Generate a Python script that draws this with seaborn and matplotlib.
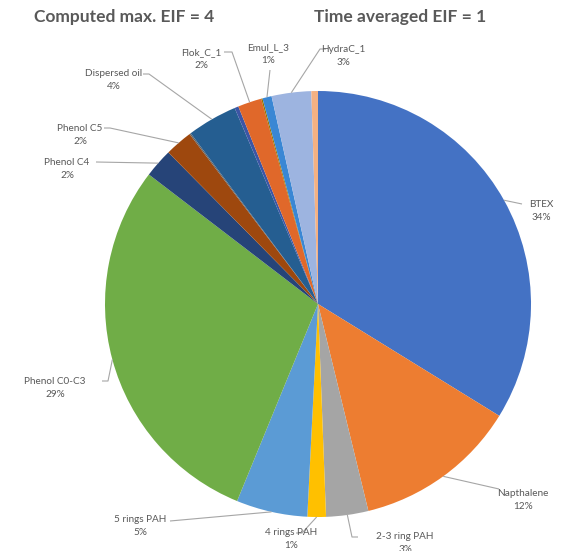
import matplotlib
matplotlib.use("Agg")
import matplotlib.pyplot as plt
import seaborn as sns
import numpy as np

# Share of the environmental impact factor per component (percent), clockwise from 12 o'clock
categories = ["BTEX", "Napthalene", "2-3 ring PAH", "4 rings PAH", "5 rings PAH",
              "Phenol C0-C3", "Phenol C4", "Phenol C5", "", "Dispersed oil", "",
              "Flok_C_1", "", "Emul_L_3", "HydraC_1", ""]
shares = [33.8, 12.4, 3.2, 1.4, 5.4, 29.2, 2.2, 2.1, 0.1, 3.8, 0.3, 1.8, 0.1, 0.7, 3.0, 0.5]
colors = ["#4472C4", "#ED7D31", "#A5A5A5", "#FFC000", "#5B9BD5", "#70AD47",
          "#264478", "#9E480E", "#636363", "#255E91", "#3C55A5", "#E0682A",
          "#997300", "#3A87D4", "#9DB4E0", "#F4B183"]
titles = ["Computed max. EIF = 4", "Time averaged EIF = 1"]

# Label layout in figure pixels: text centre, then leader line points from text toward the wedge
label_layout = {
    "BTEX":          ((541, 211), [(522, 204)]),
    "Napthalene":    ((523, 500), [(499, 489)]),
    "2-3 ring PAH":  ((405, 543), [(358, 537), (352, 537)]),
    "4 rings PAH":   ((291, 539), [(296, 533), (302, 533)]),
    "5 rings PAH":   ((140, 526), [(170, 521)]),
    "Phenol C0-C3":  ((55, 388), [(102, 381), (108, 381)]),
    "Phenol C4":     ((67, 169), [(96, 162)]),
    "Phenol C5":     ((80, 135), [(104, 128), (110, 128)]),
    "Dispersed oil": ((114, 80), [(143, 74), (149, 74)]),
    "Flok_C_1":      ((201, 59), [(224, 52), (232, 52)]),
    "Emul_L_3":      ((268, 54), [(270, 70)]),
    "HydraC_1":      ((343, 56), [(326, 49), (320, 49)]),
}

W, H = 583, 551
CX, CY, R = 318, 304, 213

sns.set_theme(style="white")
plt.rcParams["font.family"] = ["Lato", "DejaVu Sans"]
text_color = "#595959"

fig = plt.figure(figsize=(W / 100, H / 100), dpi=100)
ax = fig.add_axes([0, 0, 1, 1])

palette = sns.color_palette(colors)
wedges, _ = ax.pie(shares, colors=palette, startangle=90, counterclock=False,
                   radius=1.0, center=(0, 0),
                   wedgeprops=dict(linewidth=0))

ax.set_xlim(-CX / R, (W - CX) / R)
ax.set_ylim(-(H - CY) / R, CY / R)
ax.set_aspect("equal", adjustable="box")
ax.axis("off")


def to_data(p):
    return ((p[0] - CX) / R, (CY - p[1]) / R)


total = float(sum(shares))
for w, name, val in zip(wedges, categories, shares):
    if not name:
        continue
    mid = np.deg2rad((w.theta1 + w.theta2) / 2.0)
    edge = (np.cos(mid), np.sin(mid))
    (tx, ty), pts = label_layout[name]
    path = [edge] + [to_data(p) for p in reversed(pts)]
    xs, ys = zip(*path)
    ax.plot(xs, ys, color="#A6A6A6", lw=0.8, solid_capstyle="butt", zorder=1)
    dx, dy = to_data((tx, ty))
    ax.text(dx, dy, f"{name}\n{val / total * 100:.0f}%", ha="center", va="center",
            fontsize=7.2, color=text_color, linespacing=1.45, zorder=3)

fig.text(124 / W, 1 - 17 / H, titles[0], ha="center", va="center",
         fontsize=12.5, fontweight="bold", color=text_color)
fig.text(400 / W, 1 - 17 / H, titles[1], ha="center", va="center",
         fontsize=12.5, fontweight="bold", color=text_color)

fig.savefig("out.png", dpi=100)
